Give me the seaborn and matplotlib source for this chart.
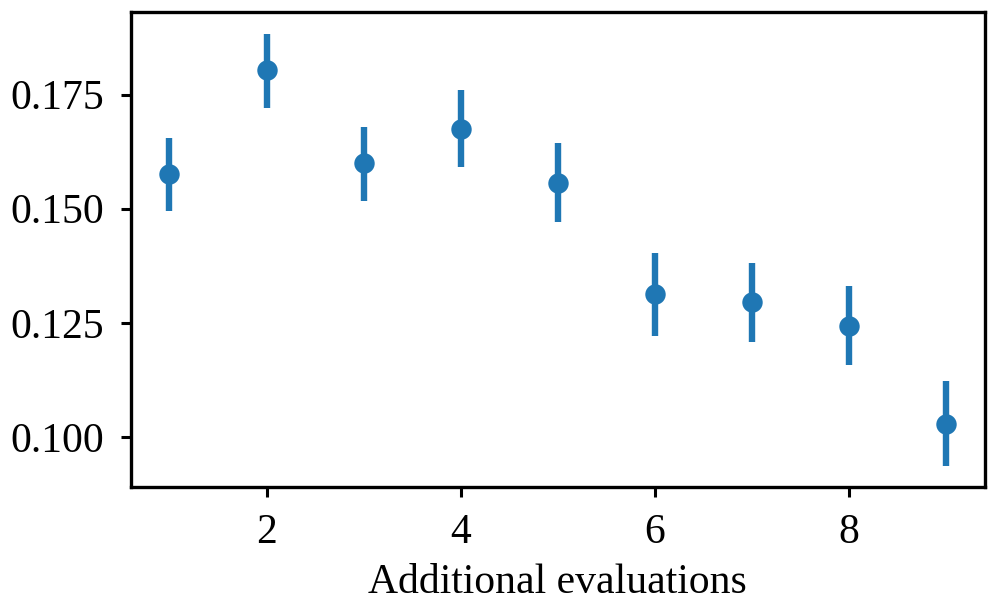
import matplotlib
matplotlib.use("Agg")
import matplotlib.pyplot as plt
import seaborn as sns
import pandas as pd
import numpy as np

evaluations = [1, 2, 3, 4, 5, 6, 7, 8, 9]
mean_vals = [0.1575, 0.1803, 0.1600, 0.1675, 0.1557, 0.1313, 0.1295, 0.1243, 0.1028]
lower_vals = [0.1494, 0.1720, 0.1516, 0.1591, 0.1470, 0.1222, 0.1207, 0.1157, 0.0937]
upper_vals = [0.1654, 0.1883, 0.1680, 0.1760, 0.1643, 0.1403, 0.1381, 0.1331, 0.1122]

df = pd.DataFrame({"x": evaluations, "y": mean_vals, "lo": lower_vals, "hi": upper_vals})

sns.set_style("ticks")
plt.rcParams["font.family"] = ["Liberation Serif", "DejaVu Serif"]
plt.rcParams["font.size"] = 15
plt.rcParams["text.color"] = "black"
plt.rcParams["axes.labelcolor"] = "black"
plt.rcParams["axes.linewidth"] = 1.2
plt.rcParams["xtick.major.width"] = 1.1
plt.rcParams["ytick.major.width"] = 1.1
plt.rcParams["xtick.major.size"] = 3.5
plt.rcParams["ytick.major.size"] = 3.5
plt.rcParams["xtick.color"] = "black"
plt.rcParams["ytick.color"] = "black"
plt.rcParams["axes.edgecolor"] = "black"

fig = plt.figure(figsize=(4.985, 3.08), dpi=200)
ax = fig.add_axes([0.131, 0.209, 0.857, 0.771])

color = "#1f77b4"
ax.vlines(df["x"], df["lo"], df["hi"], color=color, linewidth=2.3, zorder=2)
sns.scatterplot(data=df, x="x", y="y", ax=ax, color=color, s=54, linewidth=0, zorder=3)

ax.margins(x=0.05, y=0.05)
ax.set_xticks([2, 4, 6, 8])
ax.set_yticks([0.100, 0.125, 0.150, 0.175])
ax.set_yticklabels(["0.100", "0.125", "0.150", "0.175"])
ax.set_xlabel("Additional evaluations", fontsize=15, color="black", labelpad=4)
ax.set_ylabel("")
ax.tick_params(axis="y", labelsize=15, pad=6, colors="black")
ax.tick_params(axis="x", labelsize=15, pad=6, colors="black")
for s in ax.spines.values():
    s.set_visible(True)
    s.set_color("black")

fig.savefig("out.png", dpi=200)
